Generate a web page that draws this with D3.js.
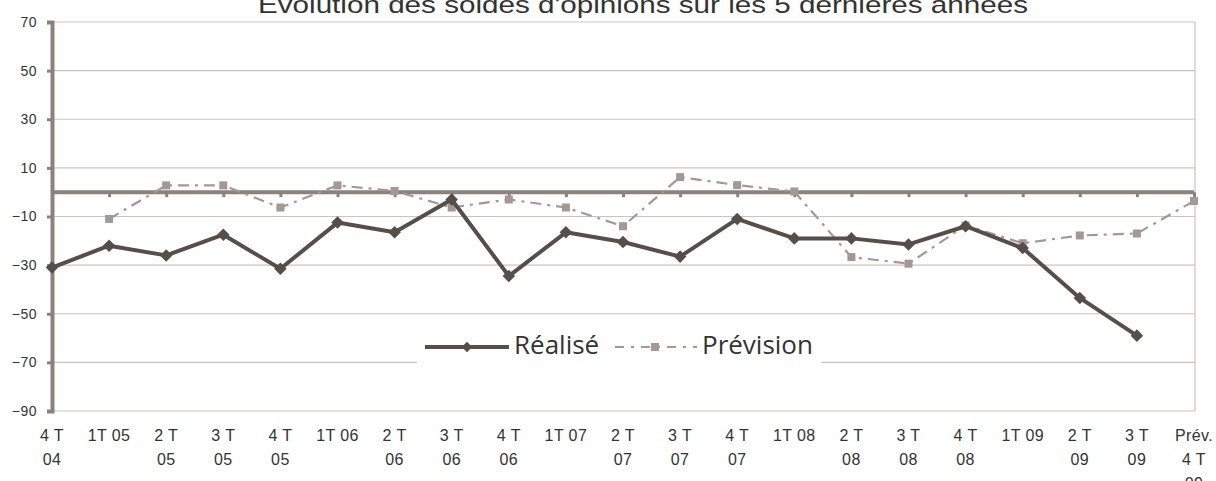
<!DOCTYPE html>
<html>
<head>
<meta charset="utf-8">
<script src="https://cdn.jsdelivr.net/npm/d3@7"></script>
<style>
  body { margin: 0; background: #fff; }
  svg { display: block; }
</style>
</head>
<body>
<svg id="chart"></svg>
<script>
// Trimestres (les libellés sont coupés en lignes comme dans Excel)
const trimestres = ["4 T\n04", "1T 05", "2 T\n05", "3 T\n05", "4 T\n05", "1T 06", "2 T\n06", "3 T\n06", "4 T\n06",
  "1T 07", "2 T\n07", "3 T\n07", "4 T\n07", "1T 08", "2 T\n08", "3 T\n08", "4 T\n08", "1T 09", "2 T\n09", "3 T\n09",
  "Prév.\n4 T\n09"];

// Soldes réalisés
const realise = [-31, -22, -26, -17.5, -31.5, -12.5, -16.5, -3, -34.5, -16.5, -20.5, -26.5, -11, -19, -19, -21.5, -14, -23, -43.5, -59, null];

// Soldes prévus
const prevision = [null, -11, 2.8, 2.8, -6.3, 2.8, 0.5, -6.3, -3, -6.3, -14, 6.2, 2.9, 0.3, -26.7, -29.4, -13.7, -21, -17.8, -17, -3.6];

const yTicks = [-90, -70, -50, -30, -10, 10, 30, 50, 70];

const width = 1216, height = 481;
const plotLeft = 52, plotRight = 1194, plotTop = 22, plotBottom = 411;

const svg = d3.select("#chart").attr("width", width).attr("height", height)
  .style("font-family", "'Liberation Sans', Arial, sans-serif");

const x = d3.scalePoint().domain(trimestres).range([plotLeft, plotRight]).padding(0);
const y = d3.scaleLinear().domain([-90, 70]).range([plotBottom, plotTop]);

// Quadrillage
svg.append("g").selectAll("line").data(yTicks).join("line")
  .attr("x1", plotLeft).attr("x2", plotRight + 1)
  .attr("y1", d => y(d)).attr("y2", d => y(d))
  .attr("stroke", "#cbc3c0").attr("stroke-width", 1.2);
svg.append("line")
  .attr("x1", plotRight + 1).attr("x2", plotRight + 1).attr("y1", plotTop).attr("y2", plotBottom)
  .attr("stroke", "#cbc3c0").attr("stroke-width", 1.2);

// Axe vertical
const yAxis = svg.append("g").attr("transform", `translate(${plotLeft},0)`)
  .call(d3.axisLeft(y).tickValues(yTicks).tickSize(5).tickPadding(10).tickFormat(d3.format("d")));
yAxis.select(".domain").attr("stroke", "#8c817d").attr("stroke-width", 4);
yAxis.selectAll(".tick line").attr("stroke", "#8c817d").attr("stroke-width", 3);
yAxis.selectAll(".tick text").attr("fill", "#333").style("font-size", "14px")
  .style("letter-spacing", "0.5px")
  .style("font-family", "'Liberation Sans', Arial, sans-serif");

// Axe horizontal à zéro
const xAxis = svg.append("g").attr("transform", `translate(0,${y(0)})`)
  .call(d3.axisBottom(x).tickSize(5).tickFormat(""));
xAxis.select(".domain").attr("stroke", "#8c817d").attr("stroke-width", 4).attr("d", `M${plotLeft},0H${plotRight}`);
xAxis.selectAll(".tick line").attr("stroke", "#8c817d").attr("stroke-width", 3);

// Libellés des trimestres en bas
const lab = svg.append("g").selectAll("text").data(trimestres).join("text")
  .attr("x", d => x(d)).attr("y", 441)
  .attr("text-anchor", "middle").attr("fill", "#333")
  .style("font-size", "16px").style("letter-spacing", "0.4px");
lab.each(function (d) {
  const lines = d.split("\n");
  d3.select(this).selectAll("tspan").data(lines).join("tspan")
    .attr("x", x(d)).attr("dy", (l, i) => i === 0 ? 0 : 24).text(l => l);
});

// Séries
const line = d3.line().defined(d => d[1] != null).x(d => x(d[0])).y(d => y(d[1]));
const prevData = trimestres.map((t, i) => [t, prevision[i]]);
const realData = trimestres.map((t, i) => [t, realise[i]]);

svg.append("path").datum(prevData).attr("d", line)
  .attr("fill", "none").attr("stroke", "#a39895").attr("stroke-width", 2.2)
  .attr("stroke-dasharray", "11,6,3,6");
svg.append("g").selectAll("rect").data(prevData.filter(d => d[1] != null)).join("rect")
  .attr("x", d => x(d[0]) - 4).attr("y", d => y(d[1]) - 4)
  .attr("width", 8).attr("height", 8).attr("fill", "#a39895");

svg.append("path").datum(realData).attr("d", line)
  .attr("fill", "none").attr("stroke", "#574e4a").attr("stroke-width", 4).attr("stroke-linejoin", "round");
const diamond = d3.symbol().type(d3.symbolDiamond2).size(100);
svg.append("g").selectAll("path").data(realData.filter(d => d[1] != null)).join("path")
  .attr("d", diamond).attr("transform", d => `translate(${x(d[0])},${y(d[1])})`)
  .attr("fill", "#574e4a");

// Légende
const lg = svg.append("g");
lg.append("rect").attr("x", 417).attr("y", 322).attr("width", 404).attr("height", 50).attr("fill", "#fff");
lg.append("line").attr("x1", 425).attr("x2", 509).attr("y1", 347).attr("y2", 347)
  .attr("stroke", "#574e4a").attr("stroke-width", 4);
lg.append("path").attr("d", d3.symbol().type(d3.symbolDiamond2).size(70)).attr("transform", "translate(467,347)").attr("fill", "#574e4a");
lg.append("text").attr("x", 514).attr("y", 354).attr("fill", "#333")
  .style("font-family", "'Open Sans', sans-serif").style("font-size", "26px").text("Réalisé");
lg.append("line").attr("x1", 615).attr("x2", 697).attr("y1", 347).attr("y2", 347)
  .attr("stroke", "#a39895").attr("stroke-width", 2.2).attr("stroke-dasharray", "9,7,3,7");
lg.append("rect").attr("x", 651).attr("y", 343).attr("width", 8).attr("height", 8).attr("fill", "#a39895");
lg.append("text").attr("x", 702).attr("y", 354).attr("fill", "#333")
  .style("font-family", "'Open Sans', sans-serif").style("font-size", "26px").text("Prévision");

// Titre
svg.append("text").attr("x", 643).attr("y", 13).attr("text-anchor", "middle")
  .attr("fill", "#333").style("font-size", "24px")
  .attr("textLength", 770).attr("lengthAdjust", "spacingAndGlyphs")
  .text("Evolution des soldes d'opinions sur les 5 dernières années");
</script>
</body>
</html>
